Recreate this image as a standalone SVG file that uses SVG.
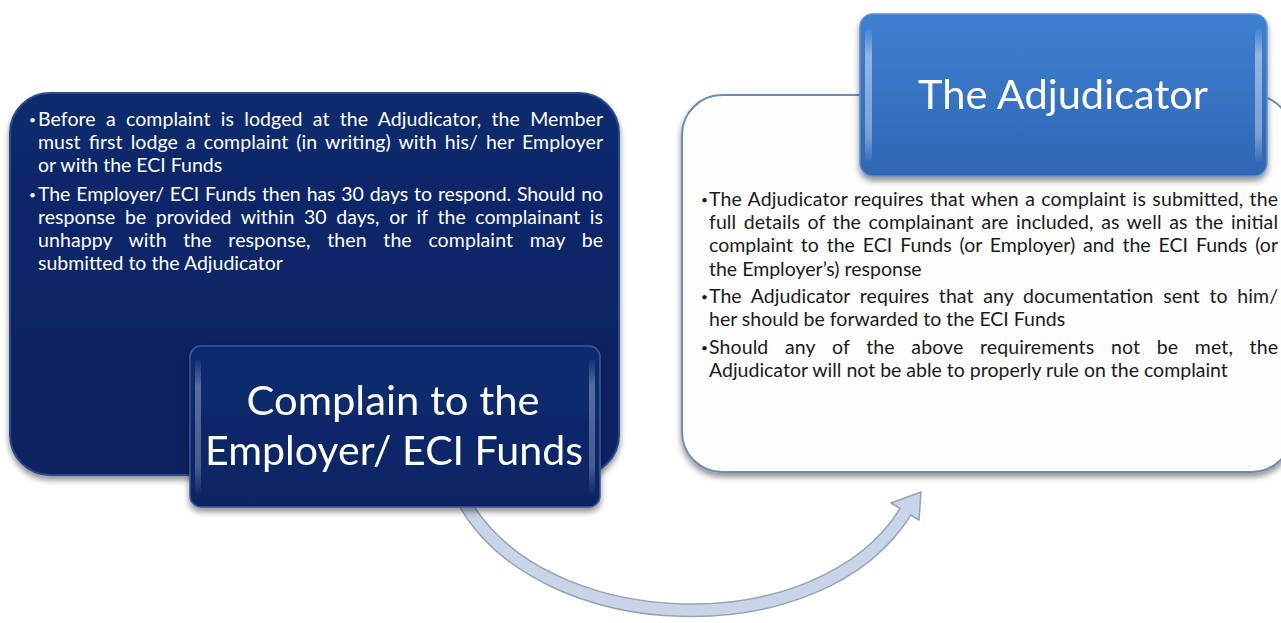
<svg xmlns="http://www.w3.org/2000/svg" width="1281" height="623" viewBox="0 0 1281 623">
  <defs>
    <style>
      .body { font-family: Lato, "Liberation Sans", sans-serif; font-size: 19.5px; }
      .light { fill: #ffffff; }
      .dark { fill: #1a1a1a; }
      .bullet { font-size: 12px; }
      .title { font-family: Lato, "Liberation Sans", sans-serif; font-size: 40px; fill: #ffffff; text-anchor: middle; }
    </style>
    <filter id="shadow" x="-10%" y="-10%" width="120%" height="130%">
      <feGaussianBlur in="SourceAlpha" stdDeviation="3"/>
      <feOffset dx="0" dy="4" result="b"/>
      <feComponentTransfer><feFuncA type="linear" slope="0.45"/></feComponentTransfer>
      <feMerge><feMergeNode/><feMergeNode in="SourceGraphic"/></feMerge>
    </filter>
    <linearGradient id="navyPanel" x1="0" y1="0" x2="0" y2="1">
      <stop offset="0" stop-color="#0c2a6e"/>
      <stop offset="1" stop-color="#08215f"/>
    </linearGradient>
    <linearGradient id="navyLabel" x1="0" y1="0" x2="0" y2="1">
      <stop offset="0" stop-color="#0e2c70"/>
      <stop offset="1" stop-color="#0a2464"/>
    </linearGradient>
    <linearGradient id="blueLabel" x1="0" y1="0" x2="0" y2="1">
      <stop offset="0" stop-color="#3f80d2"/>
      <stop offset="1" stop-color="#2f66b2"/>
    </linearGradient>
    <linearGradient id="sideGloss" x1="0" y1="0" x2="0" y2="1">
      <stop offset="0" stop-color="#ffffff" stop-opacity="0.05"/>
      <stop offset="0.2" stop-color="#ffffff" stop-opacity="0.45"/>
      <stop offset="0.8" stop-color="#ffffff" stop-opacity="0.35"/>
      <stop offset="1" stop-color="#ffffff" stop-opacity="0.05"/>
    </linearGradient>
  </defs>

  <rect width="1281" height="623" fill="#ffffff"/>

  <!-- left detail panel: justified bullet text (word-spacing plus textLength) -->
  <g id="employer-panel">
    <rect x="10" y="93" width="609" height="382" rx="40" fill="url(#navyPanel)" stroke="#2a4a8c" stroke-width="2" filter="url(#shadow)"/>
    <g class="body light">
      <text class="bullet" x="29" y="124">•</text>
      <text x="38" y="126" word-spacing="5.2" textLength="565" lengthAdjust="spacing">Before a complaint is lodged at the Adjudicator, the Member</text>
      <text x="38" y="149" word-spacing="3" textLength="565" lengthAdjust="spacing">must first lodge a complaint (in writing) with his/ her Employer</text>
      <text x="38" y="172">or with the ECI Funds</text>
      <text class="bullet" x="29" y="199">•</text>
      <text x="38" y="201" word-spacing="1.1" textLength="565" lengthAdjust="spacing">The Employer/ ECI Funds then has 30 days to respond. Should no</text>
      <text x="38" y="224" word-spacing="4.6" textLength="565" lengthAdjust="spacing">response be provided within 30 days, or if the complainant is</text>
      <text x="38" y="247" word-spacing="11.6" textLength="565" lengthAdjust="spacing">unhappy with the response, then the complaint may be</text>
      <text x="38" y="270">submitted to the Adjudicator</text>
    </g>
  </g>

  <!-- right detail panel: justified bullet text -->
  <g id="adjudicator-panel">
    <rect x="682" y="95" width="610" height="377" rx="40" fill="#fdfdfd" stroke="#6d8cb6" stroke-width="2" filter="url(#shadow)"/>
    <g class="body dark">
      <text class="bullet" x="701" y="204">•</text>
      <text x="709" y="206" word-spacing="1.3" textLength="569" lengthAdjust="spacing">The Adjudicator requires that when a complaint is submitted, the</text>
      <text x="709" y="229" word-spacing="2.5" textLength="569" lengthAdjust="spacing">full details of the complainant are included, as well as the initial</text>
      <text x="709" y="252" word-spacing="2.9" textLength="569" lengthAdjust="spacing">complaint to the ECI Funds (or Employer) and the ECI Funds (or</text>
      <text x="709" y="276">the Employer’s) response</text>
      <text class="bullet" x="701" y="301">•</text>
      <text x="709" y="303" word-spacing="4.6" textLength="569" lengthAdjust="spacing">The Adjudicator requires that any documentation sent to him/</text>
      <text x="709" y="326">her should be forwarded to the ECI Funds</text>
      <text class="bullet" x="701" y="352">•</text>
      <text x="709" y="354" word-spacing="11.6" textLength="569" lengthAdjust="spacing">Should any of the above requirements not be met, the</text>
      <text x="709" y="377">Adjudicator will not be able to properly rule on the complaint</text>
    </g>
  </g>

  <!-- curved connector from the employer step to the adjudicator step -->
  <g id="connectors">
    <path d="M463,500 C540,640 820,650 906,511" fill="none" stroke="#97a2b1" stroke-width="14" stroke-linecap="butt"/>
    <polygon points="921,492 919,520 891,503" fill="#c8d5e8" stroke="#97a2b1" stroke-width="1.5" stroke-linejoin="round"/>
    <path d="M463,500 C540,640 820,650 906,511" fill="none" stroke="#c8d5e8" stroke-width="11" stroke-linecap="butt"/>
  </g>

  <!-- step label: employer -->
  <g id="employer-label" filter="url(#shadow)">
    <rect x="190" y="346" width="410" height="161" rx="11" fill="url(#navyLabel)" stroke="#3a5a9a" stroke-width="1.5"/>
    <rect x="195" y="360" width="6" height="133" rx="3" fill="url(#sideGloss)" opacity="0.7"/>
    <rect x="589" y="360" width="6" height="133" rx="3" fill="url(#sideGloss)" opacity="0.7"/>
    <text class="title" x="393" y="415" textLength="293" lengthAdjust="spacingAndGlyphs">Complain to the</text>
    <text class="title" x="394" y="465" textLength="378" lengthAdjust="spacingAndGlyphs">Employer/ ECI Funds</text>
  </g>

  <!-- step label: adjudicator -->
  <g id="adjudicator-label" filter="url(#shadow)">
    <rect x="860" y="14" width="407" height="162" rx="13" fill="url(#blueLabel)" stroke="#5d8fd0" stroke-width="1.5"/>
    <rect x="865" y="29" width="7" height="132" rx="3.5" fill="url(#sideGloss)"/>
    <rect x="1255" y="29" width="7" height="132" rx="3.5" fill="url(#sideGloss)"/>
    <text class="title" x="1063" y="109" textLength="290" lengthAdjust="spacingAndGlyphs">The Adjudicator</text>
  </g>
</svg>
